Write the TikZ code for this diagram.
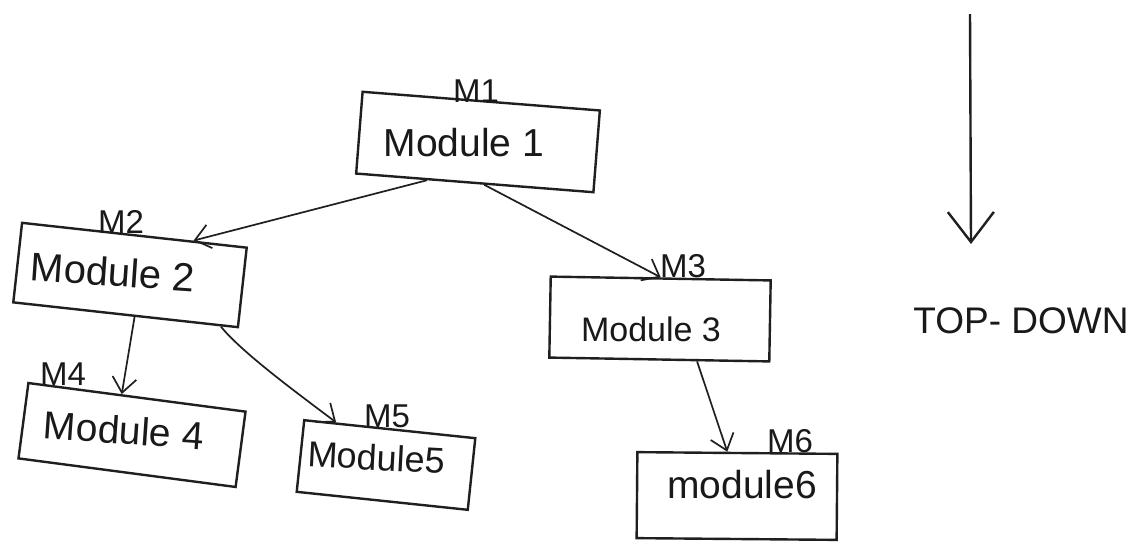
\documentclass[tikz,border=0pt]{standalone}
\usepackage{fontspec}
\setmainfont{Liberation Sans}
\usetikzlibrary{arrows.meta,calc}
\begin{document}
\begin{tikzpicture}[x=1pt,y=-1pt,
  modbox/.style={draw=black!88, line width=2.4pt, rectangle, inner sep=0pt},
  modtext/.style={anchor=base, inner sep=0pt, text=black!90},
  tag/.style={anchor=base, inner sep=0pt, text=black!90, font=\fontsize{33}{36}\selectfont},
  link/.style={draw=black!88, line width=1.7pt,
    -{Straight Barb[length=15pt,width=24pt]}},
]
\useasboundingbox[fill=white] (0,0) rectangle (1137,544);

% module boxes
\node[modbox, minimum width=238pt, minimum height=82pt, rotate=-4.5] (m1) at (478,142) {};
\node[modbox, minimum width=226pt, minimum height=80pt, rotate=-6.3] (m2) at (130,275) {};
\node[modbox, minimum width=220pt, minimum height=81pt, rotate=-1] (m3) at (660,319) {};
\node[modbox, minimum width=219pt, minimum height=76pt, rotate=-7.5] (m4) at (132,435) {};
\node[modbox, minimum width=172pt, minimum height=72pt, rotate=-6] (m5) at (386,465) {};
\node[modbox, minimum width=200pt, minimum height=86pt, rotate=-0.5] (m6) at (737,496) {};

% module names
\node[modtext, font=\fontsize{39}{42}\selectfont] (t1) at (464,156) {Module 1};
\node[modtext, font=\fontsize{40}{42}\selectfont, rotate=-4] (t2) at (112,286) {Module 2};
\node[modtext, font=\fontsize{34}{38}\selectfont] (t3) at (651,341) {Module 3};
\node[modtext, font=\fontsize{39}{42}\selectfont, rotate=-4] (t4) at (123,444) {Module 4};
\node[modtext, font=\fontsize{36}{40}\selectfont, rotate=-3] (t5) at (376,470) {Module5};
\node[modtext, font=\fontsize{39}{42}\selectfont] (t6) at (742,498) {module6};

% short tags above the boxes
\node[tag] (g1) at (476,102) {M1};
\node[tag] (g2) at (121,233) {M2};
\node[tag] (g3) at (683,277) {M3};
\node[tag] (g4) at (63,385) {M4};
\node[tag] (g5) at (387,427) {M5};
\node[tag] (g6) at (790,452) {M6};

% call hierarchy
\draw[link] ($(m1.south west)!0.3!(m1.south east)$) -- ($(m2.north west)!0.76!(m2.north east)$);
\draw[link] ($(m1.south west)!0.54!(m1.south east)$) -- (m3.north);
\draw[link] ($(m2.south west)!0.54!(m2.south east)$) -- ($(m4.north west)!0.43!(m4.north east)$);
\draw[link] ($(m2.south west)!0.92!(m2.south east)$) .. controls +(20,25) and +(-40,-30) .. ($(m5.north west)!0.19!(m5.north east)$);
\draw[link] ($(m3.south west)!0.67!(m3.south east)$) -- ($(m6.north west)!0.45!(m6.north east)$);

% direction marker
\coordinate (tdtop) at (970,14);
\coordinate (tdtip) at (971,244);
\draw[draw=black!88, line width=2.4pt, -{Straight Barb[length=30pt,width=46pt]}] (tdtop) -- (tdtip);
\node[modtext, font=\fontsize{37}{40}\selectfont] (td) at (1021,333) {TOP- DOWN};
\end{tikzpicture}
\end{document}
